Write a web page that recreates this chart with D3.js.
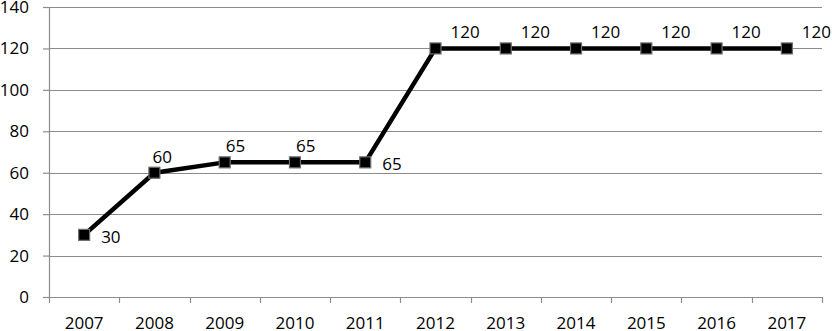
<!DOCTYPE html>
<html>
<head>
<meta charset="utf-8">
<script src="https://cdn.jsdelivr.net/npm/d3@7"></script>
<style>
  html, body { margin: 0; padding: 0; background: #fff; }
  svg text { font-family: "Open Sans", sans-serif; font-size: 17px; fill: #000; }
</style>
</head>
<body>
<div id="chart"></div>
<script>
const years = ['2007', '2008', '2009', '2010', '2011', '2012', '2013', '2014', '2015', '2016', '2017'];
const values = [30, 60, 65, 65, 65, 120, 120, 120, 120, 120, 120];
const labelPlace = ['right', 'above', 'above', 'above', 'right', 'above', 'above', 'above', 'above', 'above', 'above'];
const yTicks = [0, 20, 40, 60, 80, 100, 120, 140];

const width = 832, height = 331;
const margin = { top: 7, right: 10, bottom: 34, left: 49 };
const iw = width - margin.left - margin.right;
const ih = height - margin.top - margin.bottom;

const svg = d3.select('#chart').append('svg')
    .attr('width', width).attr('height', height);
const g = svg.append('g').attr('transform', `translate(${margin.left},${margin.top})`);

const x = d3.scaleBand().domain(years).range([0, iw]);
const y = d3.scaleLinear().domain([0, 140]).range([ih, 0]);
const cx = (d) => x(d) + x.bandwidth() / 2;

// gridlines
g.append('g').selectAll('line').data(yTicks.filter((t) => t > 0)).enter().append('line')
    .attr('x1', 0).attr('x2', iw)
    .attr('y1', (d) => Math.round(y(d)) + 0.5).attr('y2', (d) => Math.round(y(d)) + 0.5)
    .attr('stroke', '#8c8c8c').attr('stroke-width', 1.2);

// y axis
const yAxis = g.append('g')
    .call(d3.axisLeft(y).tickValues(yTicks).tickSize(6).tickPadding(14))
    .call((sel) => sel.selectAll('line, path').attr('stroke', '#8c8c8c').attr('stroke-width', 1.2));
yAxis.selectAll('text').attr('font-size', null).attr('font-family', null);

// x axis
const xAxis = g.append('g').attr('transform', `translate(0,${ih})`)
    .call(d3.axisBottom(x).tickSize(0).tickPadding(20))
    .call((sel) => sel.selectAll('path').attr('stroke', '#8c8c8c').attr('stroke-width', 1.2));
xAxis.selectAll('text').attr('font-size', null).attr('font-family', null);
// tick marks between categories
xAxis.selectAll('line.sep').data(years.concat(['end'])).enter().append('line')
    .attr('class', 'sep')
    .attr('x1', (d, i) => Math.round(i * x.bandwidth()) + 0.5)
    .attr('x2', (d, i) => Math.round(i * x.bandwidth()) + 0.5)
    .attr('y1', 0).attr('y2', 6)
    .attr('stroke', '#8c8c8c').attr('stroke-width', 1.2);

const data = years.map((yr, i) => ({ yr, v: values[i], place: labelPlace[i] }));

// line
g.append('path').datum(data)
    .attr('fill', 'none').attr('stroke', '#000').attr('stroke-width', 4.5)
    .attr('stroke-linejoin', 'round')
    .attr('d', d3.line().x((d) => cx(d.yr)).y((d) => y(d.v)));

// markers
const ms = 11;
g.selectAll('rect.m').data(data).enter().append('rect')
    .attr('class', 'm')
    .attr('x', (d) => cx(d.yr) - ms / 2).attr('y', (d) => y(d.v) - ms / 2)
    .attr('width', ms).attr('height', ms)
    .attr('fill', '#000').attr('stroke', '#6e6e6e').attr('stroke-width', 1.2);

// value labels
g.selectAll('text.v').data(data).enter().append('text')
    .attr('class', 'v')
    .attr('x', (d) => cx(d.yr) + (d.place === 'right' ? 17 : -2 + (d.v === 65 ? 3 : 0) + (d.v === 120 ? 17 : 0)))
    .attr('y', (d) => y(d.v) + (d.place === 'right' ? 2 : -16))
    .attr('dy', '0.35em')
    .text((d) => d.v);
</script>
</body>
</html>
